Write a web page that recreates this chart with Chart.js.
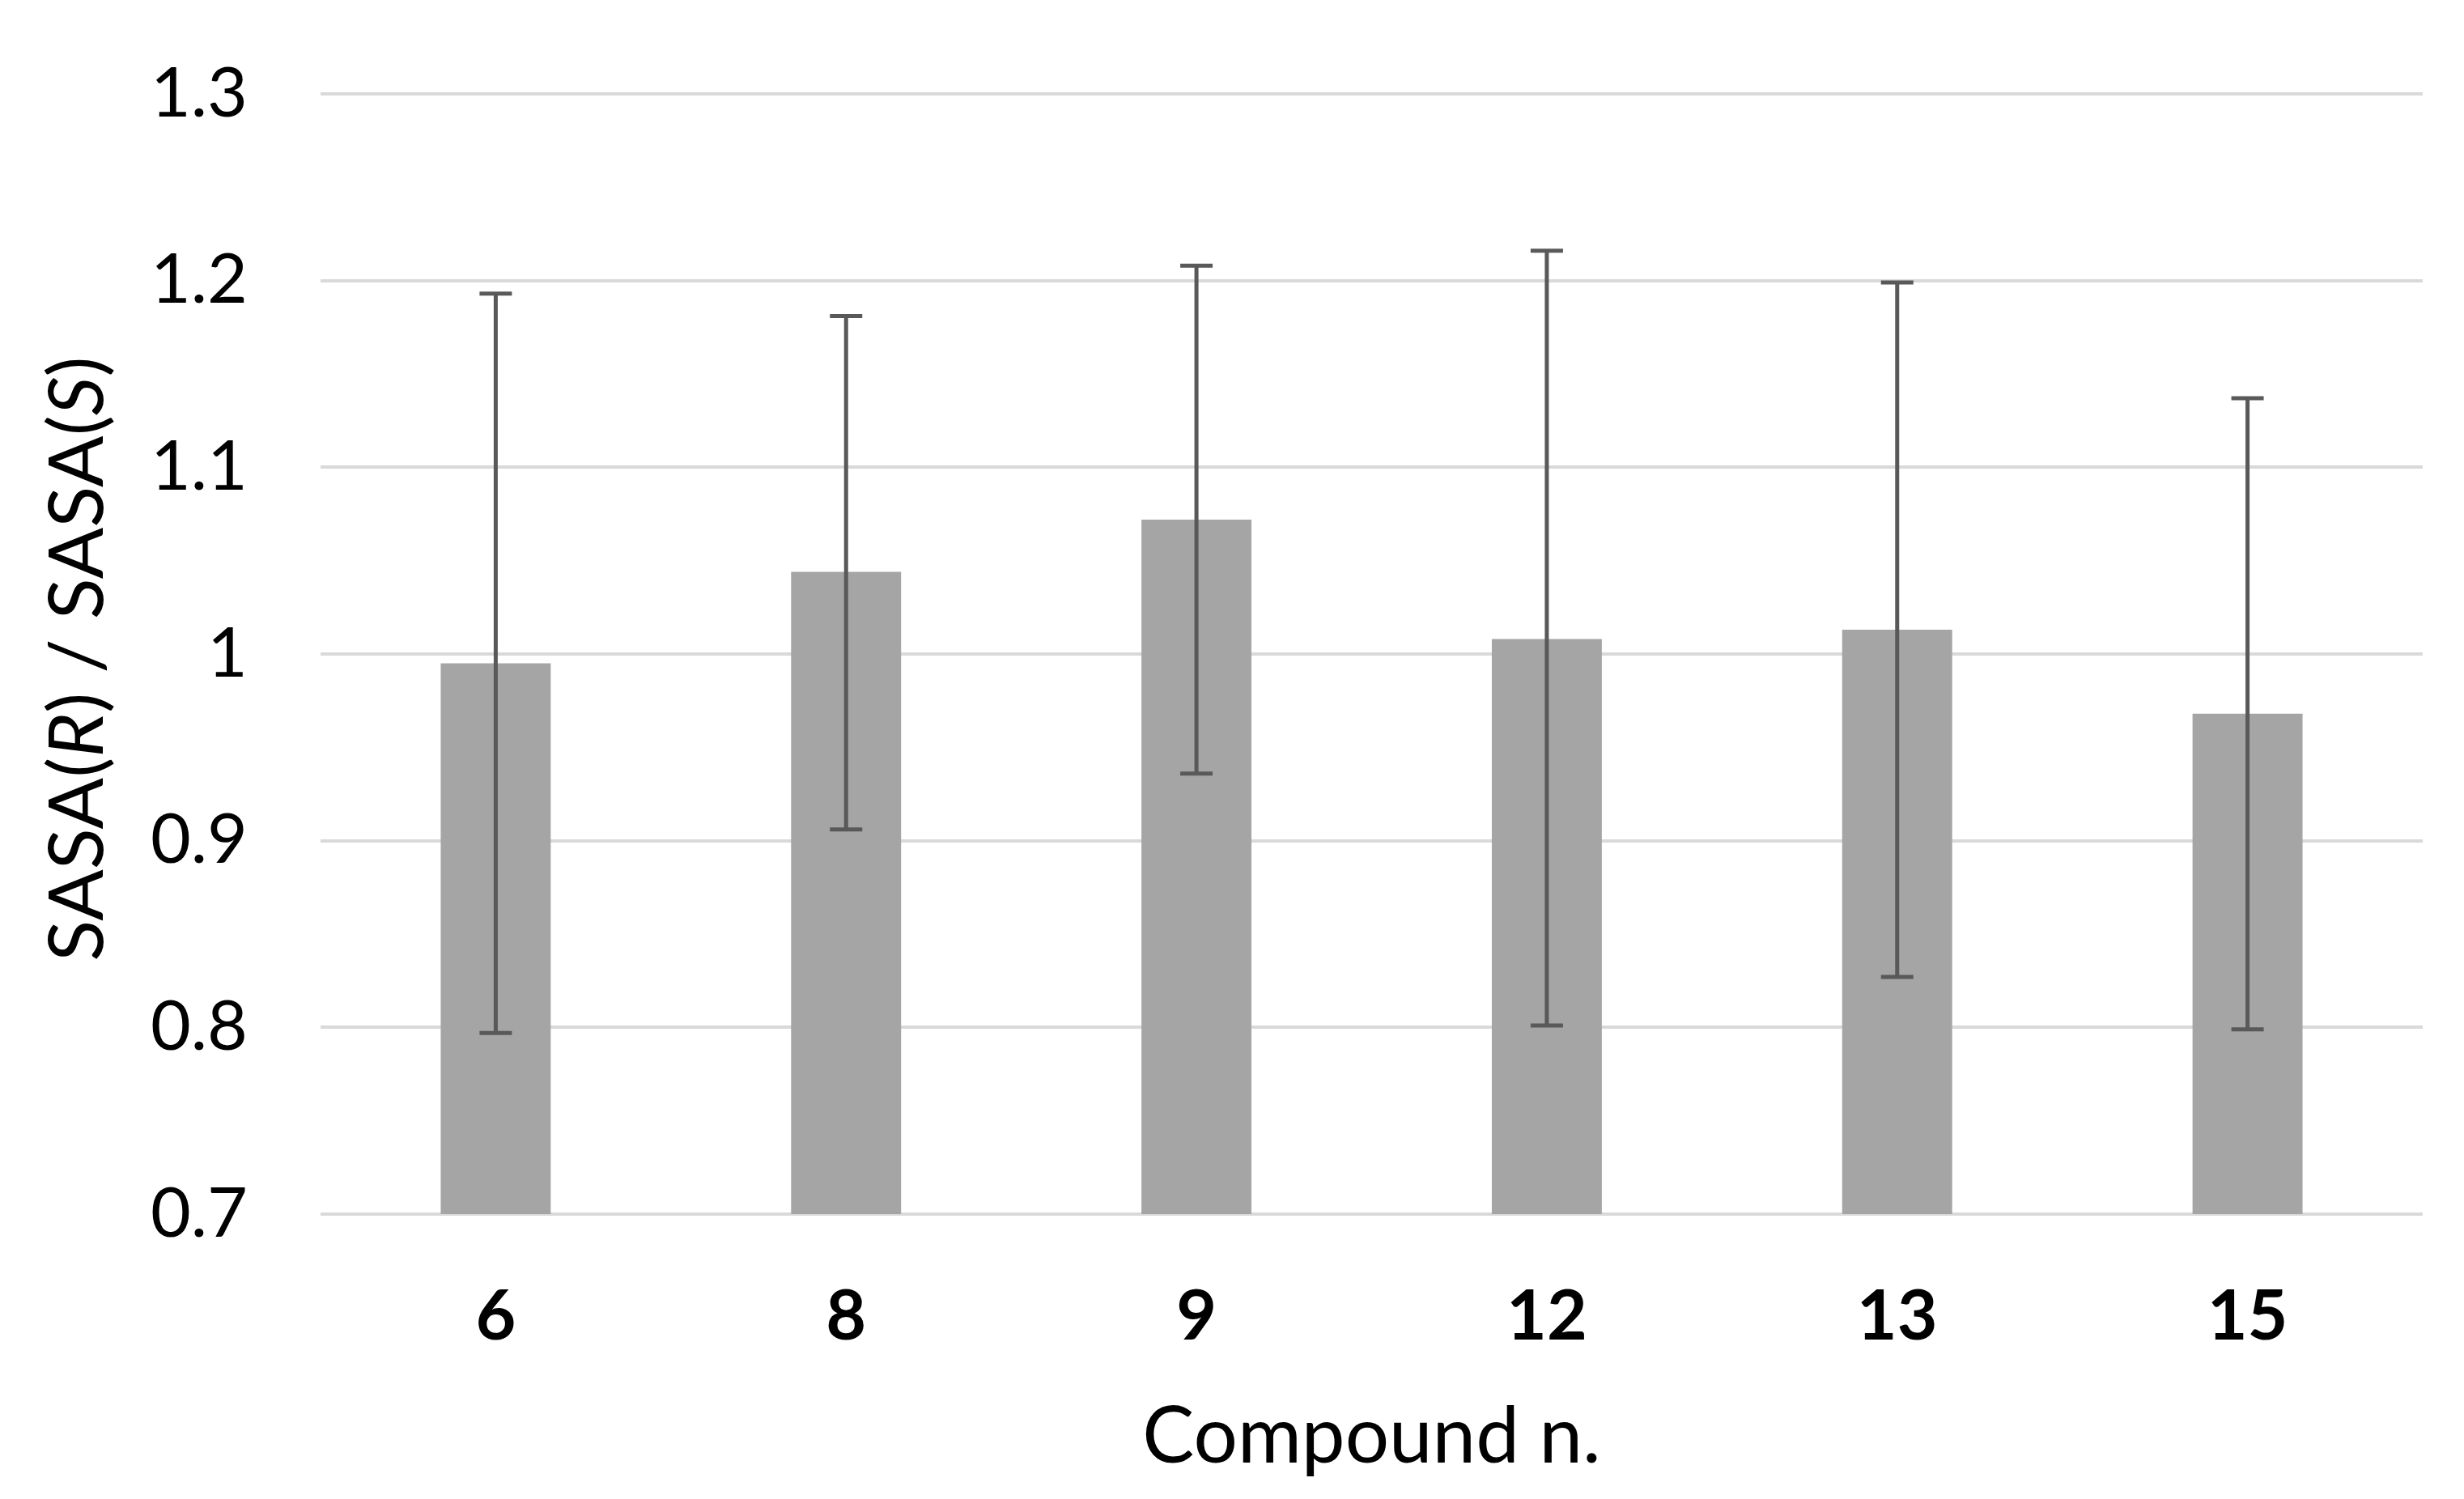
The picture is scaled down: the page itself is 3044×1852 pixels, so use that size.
<!DOCTYPE html>
<html>
<head>
<meta charset="utf-8">
<script src="https://cdn.jsdelivr.net/npm/chart.js@4/dist/chart.umd.min.js"></script>
<style>
  html, body { margin: 0; padding: 0; background: #ffffff; }
  #wrap { width: 3044px; height: 1852px; position: relative; }
</style>
</head>
<body>
<div id="wrap"><canvas id="c" width="3044" height="1852"></canvas></div>
<script>
// ---- data ----
const categories = ['6', '8', '9', '12', '13', '15'];
const ratioValues = [0.995, 1.044, 1.072, 1.008, 1.013, 0.968];
const errorHigh = [1.193, 1.181, 1.208, 1.216, 1.199, 1.137];
const errorLow = [0.797, 0.906, 0.936, 0.801, 0.827, 0.799];
const yTickValues = [0.7, 0.8, 0.9, 1.0, 1.1, 1.2, 1.3];
const xAxisTitle = 'Compound n.';
// y title pieces: [text, italic]
const yTitleParts = [['SASA(', false], ['R', true], [') / SASA(', false], ['S', true], [')', false]];

const FONT = 'Lato, "Open Sans", "Noto Sans", sans-serif';

const errorBarPlugin = {
  id: 'errorBars',
  afterDatasetsDraw(chart) {
    const ctx = chart.ctx;
    const meta = chart.getDatasetMeta(0);
    const y = chart.scales.y;
    ctx.save();
    ctx.strokeStyle = '#595959';
    meta.data.forEach((bar, i) => {
      const x = bar.x;
      const yHi = y.getPixelForValue(errorHigh[i]);
      const yLo = y.getPixelForValue(errorLow[i]);
      ctx.lineWidth = 5;
      ctx.beginPath();
      ctx.moveTo(x, yHi);
      ctx.lineTo(x, yLo);
      ctx.stroke();
      ctx.lineWidth = 5;
      ctx.beginPath();
      ctx.moveTo(x - 20, yHi);
      ctx.lineTo(x + 20, yHi);
      ctx.moveTo(x - 20, yLo);
      ctx.lineTo(x + 20, yLo);
      ctx.stroke();
    });
    ctx.restore();
  }
};

const yTitlePlugin = {
  id: 'yTitle',
  afterDraw(chart) {
    const ctx = chart.ctx;
    const area = chart.chartArea;
    const size = 94;
    ctx.save();
    ctx.fillStyle = '#000000';
    ctx.textBaseline = 'middle';
    ctx.textAlign = 'left';
    let total = 0;
    const widths = yTitleParts.map(([t, it]) => {
      ctx.font = (it ? 'italic ' : '') + size + 'px ' + FONT;
      const w = ctx.measureText(t).width;
      total += w;
      return w;
    });
    const cx = 97;
    const cy = (area.top + area.bottom) / 2 + 6;
    ctx.translate(cx, cy);
    ctx.rotate(-Math.PI / 2);
    let xPos = -total / 2;
    yTitleParts.forEach(([t, it], i) => {
      ctx.font = (it ? 'italic ' : '') + size + 'px ' + FONT;
      ctx.fillText(t, xPos, 0);
      xPos += widths[i];
    });
    ctx.restore();
  }
};

new Chart(document.getElementById('c'), {
  type: 'bar',
  data: {
    labels: categories,
    datasets: [{
      data: ratioValues,
      backgroundColor: '#a5a5a5',
      borderWidth: 0,
      barPercentage: 0.314,
      categoryPercentage: 1.0
    }]
  },
  options: {
    responsive: false,
    animation: false,
    devicePixelRatio: 1,
    layout: { padding: { top: 116, right: 51, left: 0, bottom: 0 } },
    plugins: { legend: { display: false }, tooltip: { enabled: false } },
    scales: {
      x: {
        offset: true,
        grid: { display: false, drawTicks: false },
        border: { display: false },
        ticks: {
          color: '#000000',
          font: { family: FONT, size: 86, weight: 'bold' },
          padding: 76
        },
        title: {
          display: true,
          text: xAxisTitle,
          color: '#000000',
          font: { family: FONT, size: 96 },
          padding: { top: 0, bottom: 18 }
        },
        afterFit(scale) { scale.height = 352; scale.paddingLeft = 0; scale.paddingRight = 0; }
      },
      y: {
        min: 0.7,
        max: 1.3,
        afterBuildTicks(scale) { scale.ticks = yTickValues.map(v => ({ value: v })); },
        grid: { color: '#d9d9d9', lineWidth: 4, drawTicks: false },
        border: { display: false },
        ticks: {
          color: '#000000',
          font: { family: FONT, size: 86 },
          padding: 90,
          callback: (v) => String(Number(v.toFixed(1)))
        },
        afterFit(scale) { scale.width = 396; scale.paddingTop = 0; scale.paddingBottom = 0; }
      }
    }
  },
  plugins: [errorBarPlugin, yTitlePlugin]
});
</script>
</body>
</html>
